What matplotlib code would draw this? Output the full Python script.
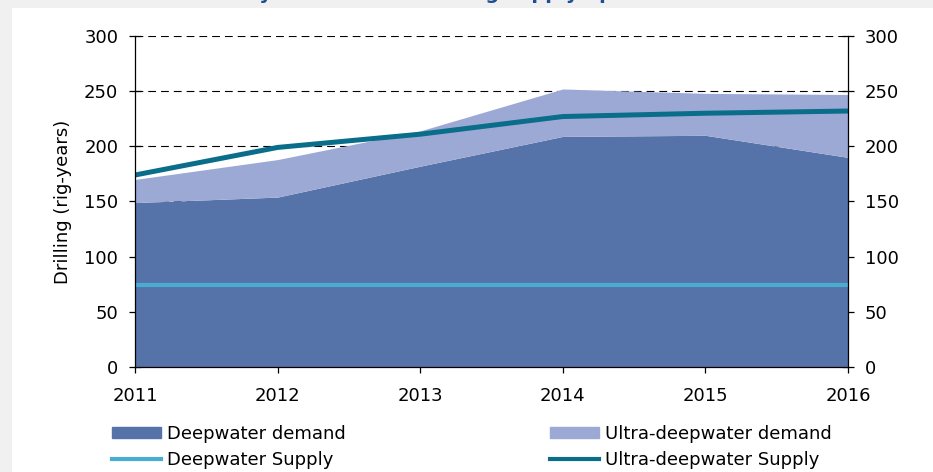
import numpy as np
import matplotlib
matplotlib.use('agg')
import matplotlib.pyplot as plt
from matplotlib.patches import Rectangle, Patch
from matplotlib.lines import Line2D

# data (rig-years)
years = [2011, 2012, 2013, 2014, 2015, 2016]
deep_demand = [149, 154, 182, 209, 210, 190]
ultra_demand = [21, 34, 32, 43, 38, 57]      # stacked on top of deepwater demand
deep_supply = [74, 74, 74, 74, 74, 74]
ultra_supply = [174, 199, 211, 227, 230, 232]
yticks = [0, 50, 100, 150, 200, 250, 300]

c_deep = '#5572a9'
c_ultra = '#9da9d5'
c_dsup = '#49acd1'
c_usup = '#0a6e8a'

W, H = 933, 472
fig = plt.figure(figsize=(W/100, H/100), dpi=100, facecolor='#f0f0f0')
fig.patches.append(Rectangle((12/W, 0), 1, (H-8)/H, transform=fig.transFigure,
                             facecolor='white', edgecolor='none', zorder=-10))

# title, mostly cut off at the top of the picture (as in the source image)
fig.text(180/W, 1 + 1.5/H, 'Industry demand and drilling supply up to 2016',
         ha='left', va='baseline', fontsize=14, fontweight='bold', color='#1f4f8f')

ax = fig.add_axes([135/W, 1-367/H, 713/W, 331/H])
ax.set_facecolor('white')

total = np.array(deep_demand) + np.array(ultra_demand)
ax.fill_between(years, 0, deep_demand, color=c_deep, lw=0, zorder=2)
ax.fill_between(years, deep_demand, total, color=c_ultra, lw=0, zorder=2)
ax.plot(years, deep_supply, color=c_dsup, lw=3, zorder=3, solid_capstyle='butt')
ax.plot(years, ultra_supply, color=c_usup, lw=3.6, zorder=3, solid_capstyle='butt')

ax.set_xlim(2011, 2016)
ax.set_ylim(0, 300)
ax.set_xticks(years)
ax.set_yticks(yticks)
for y in yticks[1:]:
    ax.axhline(y, color='black', lw=0.8, dashes=(7, 4.5), zorder=1)

ax.spines['top'].set_visible(False)
for s in ['left', 'right', 'bottom']:
    ax.spines[s].set_linewidth(0.9)
    ax.spines[s].set_zorder(4)

ax.tick_params(axis='y', direction='inout', length=8, width=0.9, pad=8,
               labelsize=13, left=True, right=True, labelleft=True, labelright=True)
ax.tick_params(axis='x', direction='out', length=4.5, width=0.9, pad=10, labelsize=13)
ax.set_ylabel('Drilling (rig-years)', fontsize=13, labelpad=9)

handles = [Patch(color=c_deep, label='Deepwater demand'),
           Line2D([], [], color=c_dsup, lw=3, label='Deepwater Supply'),
           Patch(color=c_ultra, label='Ultra-deepwater demand'),
           Line2D([], [], color=c_usup, lw=3, label='Ultra-deepwater Supply')]
fig.legend(handles=handles, loc='upper left', bbox_to_anchor=(112/W, 1-425/H),
           ncol=2, frameon=False, fontsize=13, handlelength=2.7, handleheight=0.55,
           handletextpad=0.35, columnspacing=11.3, labelspacing=0.45,
           borderpad=0, borderaxespad=0)

fig.savefig('out.png', dpi=100, facecolor=fig.get_facecolor())
